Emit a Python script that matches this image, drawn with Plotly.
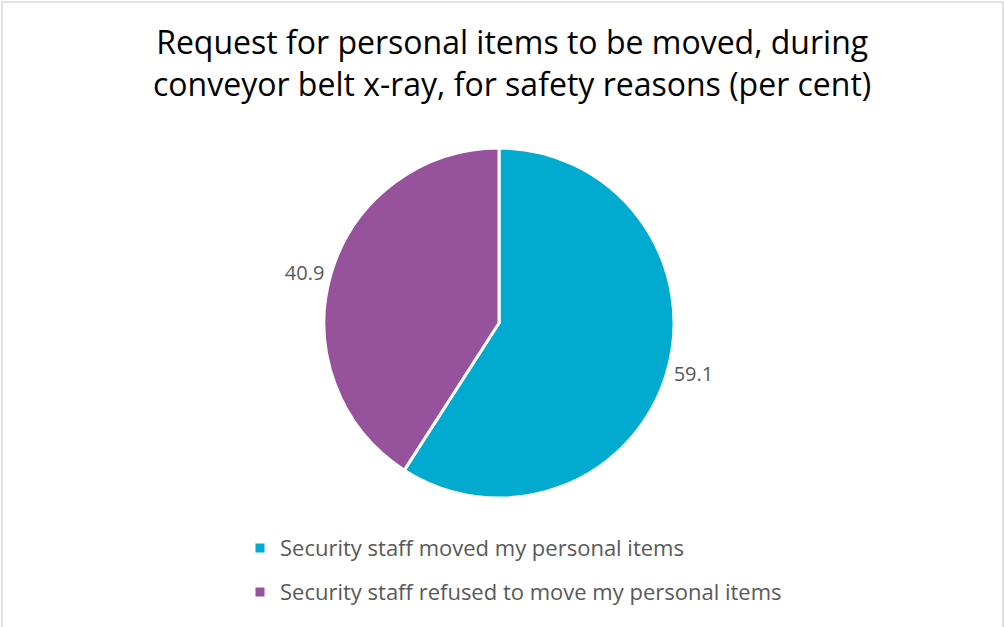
import plotly.graph_objects as go

labels = ["Security staff moved my personal items",
          "Security staff refused to move my personal items"]
values = [59.1, 40.9]
colors = ["#00ABCF", "#96529A"]
title_text = "Request for personal items to be moved, during<br>conveyor belt x-ray, for safety reasons (per cent)"

W, H = 1004, 627
cx, cy, r = 499, 323, 175

fig = go.Figure(go.Pie(
    labels=[f'<span style="font-size:22px;baseline-shift:4px">{l}</span>' for l in labels],
    values=values,
    sort=False,
    direction="clockwise",
    rotation=0,
    marker=dict(colors=colors, line=dict(color="white", width=3)),
    textinfo="value",
    textposition="outside",
    texttemplate="%{value:.1f}",
    textfont=dict(size=20, color="#595959", family="Open Sans"),
    hoverinfo="label+value",
    domain=dict(x=[(cx - r) / W, (cx + r) / W], y=[(H - cy - r) / H, (H - cy + r) / H]),
))

fig.update_layout(
    width=W, height=H,
    margin=dict(l=0, r=0, t=0, b=0),
    paper_bgcolor="white",
    font=dict(family="Open Sans", color="#595959"),
    annotations=[dict(text=title_text, xref="paper", yref="paper", x=512 / W, xanchor="center",
                      y=1 - 63 / H, yanchor="middle", showarrow=False,
                      font=dict(size=32, color="#000000", family="Open Sans"))],
    legend=dict(orientation="v", x=240 / W, xanchor="left", y=1 - 521 / H, yanchor="top",
                font=dict(size=31.5, color="#595959", family="Open Sans"),
                bgcolor="rgba(0,0,0,0)"),
    shapes=[dict(type="rect", xref="paper", yref="paper", x0=2 / W, x1=1003 / W,
                 y0=-0.01, y1=1 - 2 / H, line=dict(color="#D9D9D9", width=1.5))],
)

fig.write_html("out.html", config={"displayModeBar": False},
               post_script="document.body.style.margin='0';document.body.style.padding='0';")
